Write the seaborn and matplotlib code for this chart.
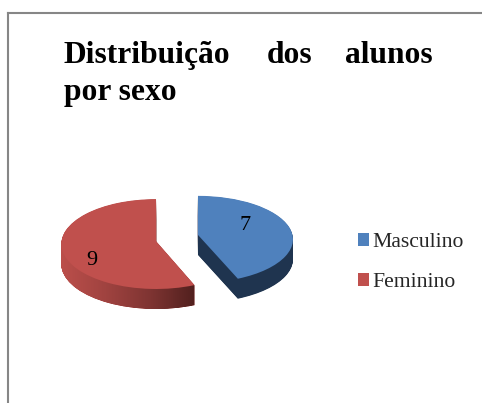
import numpy as np
import matplotlib
matplotlib.use("Agg")
import matplotlib.pyplot as plt
import seaborn as sns
from matplotlib.colors import LinearSegmentedColormap
from matplotlib.path import Path
from matplotlib.transforms import Affine2D, Transform

categories = ["Masculino", "Feminino"]
values = [7, 9]
title_words = ["Distribuição", "dos", "alunos"]
title_line2 = "por sexo"

W, H = 482, 403
TOP = ["#4F81BD", "#C0504D"]
SIDE_BLUE = "#1F344F"
RED_GRAD = ["#BC4F4B", "#A04340", "#7E3432", "#4F1F1D"]


class Perspective(Transform):
    """Tilted-disc view: the near (lower) part of a slice appears larger."""
    input_dims = output_dims = 2
    is_separable = False

    def __init__(self, a):
        super().__init__()
        self.a = a

    def transform_non_affine(self, xy):
        xy = np.asarray(xy, dtype=float)
        return xy / (1 + self.a * xy[:, 1:2])


sns.set_theme(style="white")
plt.rcParams["font.family"] = ["Liberation Serif", "DejaVu Serif"]

fig = plt.figure(figsize=(W / 100, H / 100), dpi=100, facecolor="white")

# frame: left and top edges only
bg = fig.add_axes([7.5 / W, 0, 1.2, (H - 12.5) / H])
bg.set_xticks([]); bg.set_yticks([])
for s in ("right", "bottom"):
    bg.spines[s].set_visible(False)
for s in ("left", "top"):
    bg.spines[s].set_color("#868686")
    bg.spines[s].set_linewidth(1.5)

# pie axes: 1 data unit = RX px horizontally, RY px vertically
RX, RY = 94.5, 43.0
CX, CY = 177, 239
LIM = 2.0
ax = fig.add_axes([(CX - LIM * RX) / W, (H - CY - LIM * RY) / H, 2 * LIM * RX / W, 2 * LIM * RY / H])
ax.patch.set_alpha(0)

explode = [0.22, 0.22]
pie_kw = dict(startangle=90, counterclock=False, explode=explode, radius=1.0)
slice_tilt = [0.10, 0.067]
slice_yscale = [1.0, 1.04]
slice_nudge = [(0.6, 2.2), (-0.6, -0.2)]   # px, right/up
depth_px = 20
layers = np.arange(depth_px * 2, -1, -1) / 2.0


def place(wedges, drop_px):
    out = []
    for wedge, tilt, ys, (nx, ny) in zip(wedges, slice_tilt, slice_yscale, slice_nudge):
        cu, cv = wedge.center
        tr = (Affine2D().translate(-cu, -cv) + Perspective(tilt)
              + Affine2D().scale(1, ys).translate(cu + nx / RX, cv + (ny - drop_px) / RY))
        wedge.set_transform(tr + ax.transData)
        wedge.set_edgecolor("none")
        out.append(wedge.get_path().transformed(wedge.get_patch_transform()).transformed(tr))
    return out


red_paths = []
for d in layers[:-1]:
    w, _ = ax.pie(values, colors=[SIDE_BLUE, RED_GRAD[0]], **pie_kw)
    paths = place(w, d)
    for p in w:
        p.set_zorder(1)
    red_paths.append(paths[1])

top, _ = ax.pie(values, colors=TOP, **pie_kw)
place(top, 0)
for p in top:
    p.set_zorder(3)

# shaded side of the larger slice
cmap = LinearSegmentedColormap.from_list("side", RED_GRAD)
left, right = (60 - CX) / RX, (197 - CX) / RX
im = ax.imshow(np.linspace(0, 1, 256)[None, :], cmap=cmap, aspect="auto",
               extent=[left, right, -LIM, LIM], zorder=2)
im.set_clip_path(Path.make_compound_path(*red_paths), transform=ax.transData)
ax.set_aspect("auto")
ax.set_xlim(-LIM, LIM)
ax.set_ylim(-LIM, LIM)

# value labels, offset in points from each slice's apex
offset_pts = [(47 * 0.72, 9 * 0.72), (-64 * 0.72, -19 * 0.72)]
for wedge, v, off, (nx, ny) in zip(top, values, offset_pts, slice_nudge):
    cu, cv = wedge.center
    ax.annotate(str(v), xy=(cu + nx / RX, cv + ny / RY), xytext=off, textcoords="offset points",
                ha="center", va="center", fontsize=16, color="black", zorder=5)

# title
title_ax = fig.add_axes([0, 0, 1, 1])
title_ax.axis("off")
title_ax.patch.set_alpha(0)
title_ax.set_xlim(0, W)
title_ax.set_ylim(H, 0)
tkw = dict(fontsize=22.7, fontweight="bold", color="black", va="baseline")
title_ax.text(64, 63, title_words[0], ha="left", **tkw)
title_ax.text(289.5, 63, title_words[1], ha="center", **tkw)
title_ax.text(433, 63, title_words[2], ha="right", **tkw)
title_ax.text(64, 100, title_line2, ha="left", **tkw)

# legend
handles = [plt.Rectangle((0, 0), 1, 1, facecolor=c, edgecolor="none") for c in TOP]
fig.legend(handles, categories, loc="upper left",
           bbox_to_anchor=(349.5 / W, 1 - 224.5 / H), frameon=False,
           fontsize=15.6, handlelength=0.52, handleheight=0.52,
           handletextpad=0.15, labelspacing=0.97, borderpad=0.4, borderaxespad=0)

fig.savefig("out.png", dpi=100, facecolor="white")
